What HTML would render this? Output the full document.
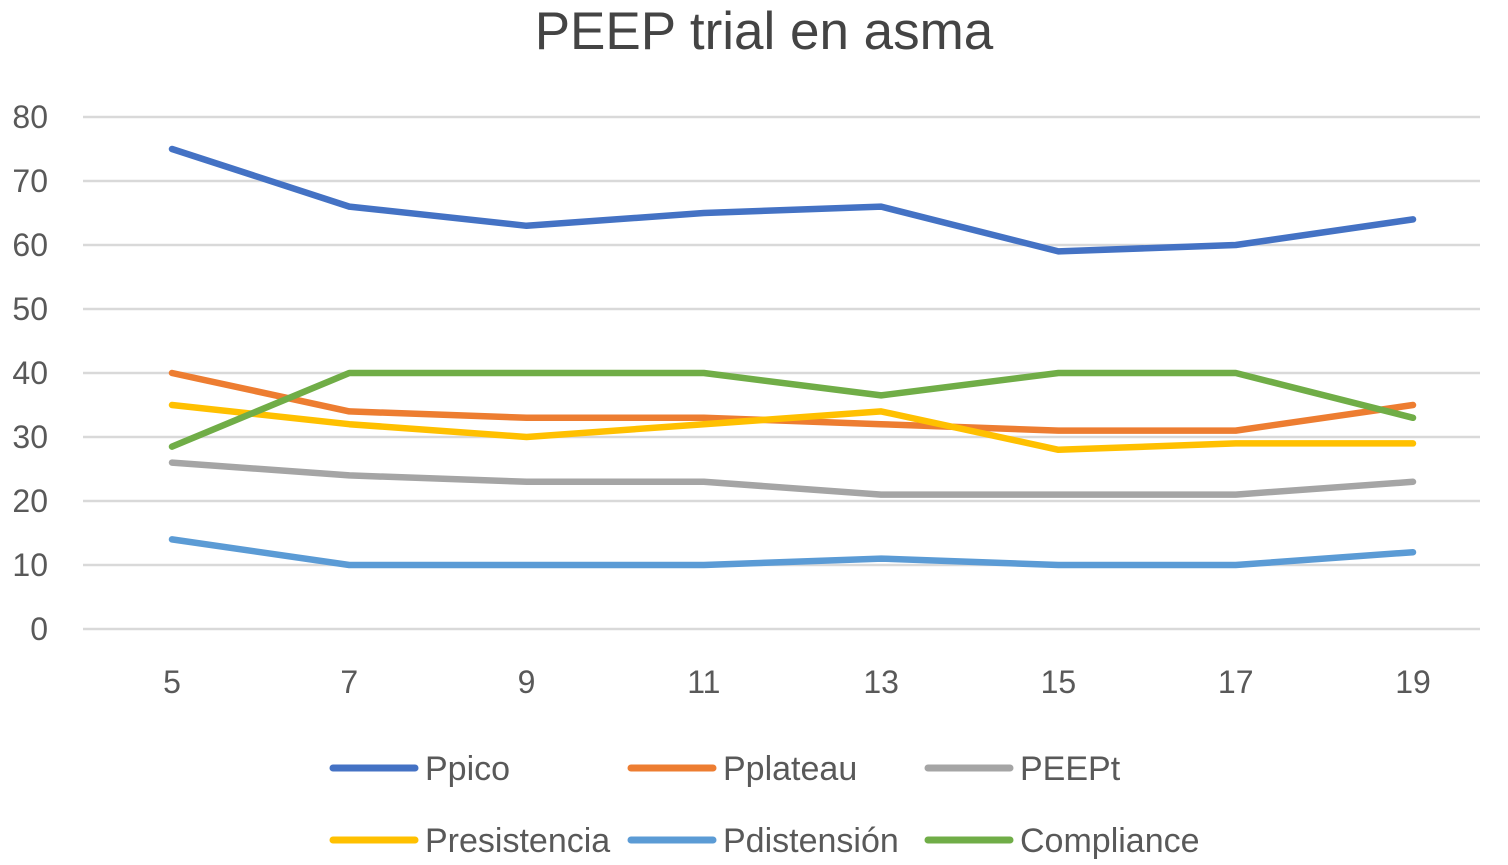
<!DOCTYPE html>
<html><head><meta charset="utf-8"><style>
body{margin:0;background:#fff;}
svg{display:block;font-family:"Liberation Sans",sans-serif;}
</style></head><body>
<svg id="chart" width="1508" height="865">
<text x="764" y="49" text-anchor="middle" font-size="53" fill="#444">PEEP trial en asma</text>
<g id="grid"></g><g id="yt"></g><g id="xt"></g><g id="series"></g><g id="legend"></g>
</svg>
<script>
const categories=[5,7,9,11,13,15,17,19];
const yTicks=[0,10,20,30,40,50,60,70,80];
const seriesNames=["Ppico","Pplateau","PEEPt","Presistencia","Pdistensión","Compliance"];
const seriesColors=["#4472C4","#ED7D31","#A5A5A5","#FFC000","#5B9BD5","#70AD47"];
const ppico=[75,66,63,65,66,59,60,64];
const pplateau=[40,34,33,33,32,31,31,35];
const peept=[26,24,23,23,21,21,21,23];
const presistencia=[35,32,30,32,34,28,29,29];
const pdistension=[14,10,10,10,11,10,10,12];
const compliance=[28.5,40,40,40,36.5,40,40,33];
const allSeries=[ppico,pplateau,peept,presistencia,pdistension,compliance];
const NS="http://www.w3.org/2000/svg";
const y=v=>629-v*6.4;
const x=i=>172+i*(1413-172)/(categories.length-1);
function mk(tag,attrs,parent){const e=document.createElementNS(NS,tag);for(const k in attrs)e.setAttribute(k,attrs[k]);document.getElementById(parent).appendChild(e);return e;}
yTicks.forEach(t=>{
  const l=mk('line',{x1:83,x2:1480,y1:y(t),y2:y(t),stroke:'#d9d9d9','stroke-width':2.5},'grid');
  
  
  const tx=mk('text',{x:48,y:y(t)+11,'text-anchor':'end','font-size':32,fill:'#595959'},'yt');
  tx.textContent=t;
  
  
});
categories.forEach((c,i)=>{
  const tx=mk('text',{x:x(i),y:693,'text-anchor':'middle','font-size':32,fill:'#595959'},'xt');
  tx.textContent=c;
  
  
});
allSeries.forEach((s,k)=>{
  const p=mk('polyline',{points:s.map((v,i)=>x(i)+','+y(v)).join(' '),fill:'none',stroke:seriesColors[k],'stroke-width':6.5,'stroke-linejoin':'round','stroke-linecap':'round'},'series');
  
  
});
const lx=[330,628,925];
seriesNames.forEach((n,k)=>{
  const col=k%3,row=Math.floor(k/3);
  const ly=768+row*72;
  const l=mk('line',{x1:lx[col]+3,x2:lx[col]+85,y1:ly,y2:ly,stroke:seriesColors[k],'stroke-width':7,'stroke-linecap':'round'},'legend');
  
  
  const t=mk('text',{x:lx[col]+95,y:ly+12,'font-size':34,fill:'#595959'},'legend');
  t.textContent=n;
  
  
});
</script>
</body></html>
